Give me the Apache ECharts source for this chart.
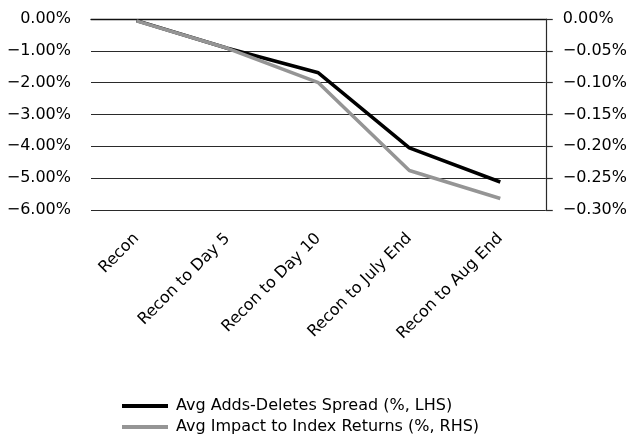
<!DOCTYPE html>
<html><head><meta charset="utf-8">
<script src="https://cdn.jsdelivr.net/npm/echarts@6/dist/echarts.min.js"></script>
<style>html,body{margin:0;padding:0;background:#fff}#c{width:630px;height:434px}</style>
</head><body><div id="c"></div>
<script>
const categories = ['Recon', 'Recon to Day 5', 'Recon to Day 10', 'Recon to July End', 'Recon to Aug End'];
const spreadLHS = [-0.05, -0.92, -1.69, -4.05, -5.12];
const impactRHS = [-0.003, -0.046, -0.1, -0.238, -0.282];
const seriesNames = ['Avg Adds-Deletes Spread (%, LHS)', 'Avg Impact to Index Returns (%, RHS)'];

const FONT = 'DejaVu Sans';
const fmt = v => (v < -1e-9 ? '\u2212' : '') + Math.abs(v).toFixed(2) + '%';
const legendBase = {
  orient: 'vertical', left: 117, icon: 'rect', itemWidth: 46, itemHeight: 4,
  textStyle: {fontFamily: FONT, fontSize: 16, color: '#000', padding: [0, 0, 0, 3]}
};
const chart = echarts.init(document.getElementById('c'), null, {renderer: 'canvas'});
chart.setOption({
  animation: false,
  textStyle: {fontFamily: FONT},
  grid: {left: 91, right: 84, top: 19, bottom: 224},
  legend: [
    Object.assign({}, legendBase, {top: 393, data: [seriesNames[0]]}),
    Object.assign({}, legendBase, {top: 414, data: [seriesNames[1]]})
  ],
  xAxis: {
    type: 'category', data: categories, boundaryGap: true,
    axisLine: {lineStyle: {color: '#111', width: 1.3}},
    axisTick: {show: false},
    axisLabel: {rotate: 45, fontSize: 16, color: '#000', fontFamily: FONT, margin: 26, interval: 0}
  },
  yAxis: [
    {type: 'value', min: -6, max: 0, interval: 1,
     axisLine: {show: false}, axisTick: {show: false},
     splitLine: {lineStyle: {color: '#2a2a2a', width: 1.2}},
     axisLabel: {formatter: fmt, fontSize: 16, color: '#000', fontFamily: FONT, margin: 20}},
    {type: 'value', min: -0.3, max: 0, interval: 0.05, position: 'right',
     axisLine: {show: true, lineStyle: {color: '#2a2a2a', width: 1.2}},
     axisTick: {show: true, inside: false, length: 7, lineStyle: {color: '#2a2a2a', width: 1.2}},
     splitLine: {show: false},
     axisLabel: {formatter: fmt, fontSize: 16, color: '#000', fontFamily: FONT, margin: 17}}
  ],
  series: [
    {name: seriesNames[0], type: 'line', yAxisIndex: 0, data: spreadLHS, symbol: 'none',
     lineStyle: {color: '#000', width: 3.5}, itemStyle: {color: '#000'}, z: 2},
    {name: seriesNames[1], type: 'line', yAxisIndex: 1, data: impactRHS, symbol: 'none',
     lineStyle: {color: '#959595', width: 3.5}, itemStyle: {color: '#959595'}, z: 3}
  ]
});
</script></body></html>
